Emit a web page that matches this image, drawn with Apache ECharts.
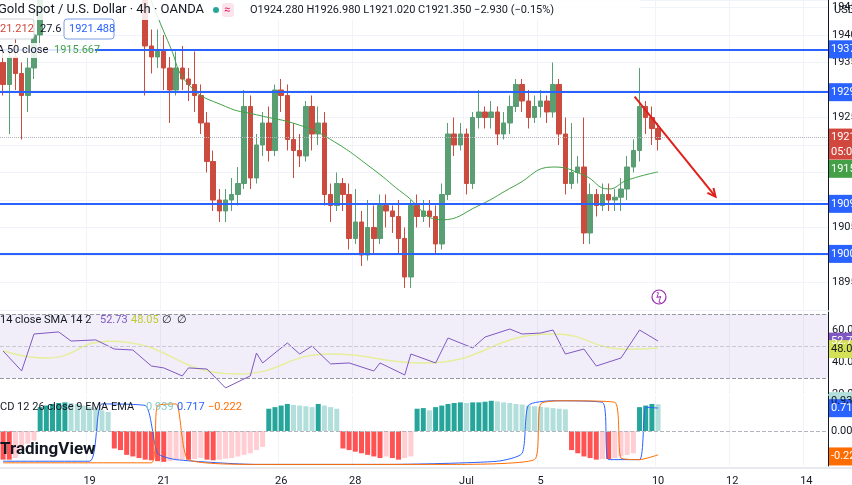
<!DOCTYPE html>
<html>
<head>
<meta charset="utf-8">
<script src="https://cdn.jsdelivr.net/npm/echarts@6/dist/echarts.min.js"></script>
<style>
  html, body { margin: 0; padding: 0; background: #fff; }
  #chart { width: 852px; height: 485px; }
</style>
</head>
<body>
<div id="chart"></div>
<script>
// [open, close, low, high], one per 4h bar
const candles = [
  [1935,1931,1929,1938],[1931,1936,1922,1938],[1936,1933,1930,1940],[1933,1929,1921,1935],
  [1929,1934,1926,1936],[1934,1940,1932,1944],[1940,1947,1938,1952],
  [1952,1956,1950,1959],[1956,1960,1954,1963],[1960,1958,1955,1962],[1958,1962,1956,1966],
  [1962,1959,1957,1964],[1959,1955,1953,1961],[1955,1957,1953,1960],[1957,1954,1951,1959],
  [1954,1958,1952,1961],[1958,1956,1953,1960],[1956,1953,1951,1958],[1953,1955,1951,1957],
  [1955,1952,1950,1957],[1952,1954,1950,1956],[1954,1951,1949,1956],[1951,1953,1949.5,1955],
  [1953,1938,1929,1955],[1938,1936,1933,1941],[1936,1937,1934,1941],[1937,1934,1930,1940],
  [1934,1930,1924,1936],[1930,1934,1929,1937],[1934,1932,1930,1938],[1932,1931,1928,1934],
  [1931,1929,1926,1937],[1929,1924,1922,1931],[1924,1917,1915,1926],[1917,1910,1908,1919],
  [1910,1908,1906,1912],[1908,1910,1906,1912],[1910,1911,1908,1914],[1911,1913,1909,1916],
  [1913,1927,1912,1930],[1927,1914,1912,1929],[1914,1920,1913,1922],[1920,1924,1918,1926],
  [1924,1919,1917,1927],[1919,1930,1918,1931],[1930,1929,1926,1932],[1929,1921,1919,1931],
  [1921,1919,1914,1924],[1919,1918,1916,1922],[1918,1927,1917,1928],[1927,1922,1919,1929],
  [1922,1924,1920,1927],[1924,1911,1909,1926],[1911,1909,1906,1913],[1909,1913,1908,1915],
  [1913,1911,1908,1914],[1911,1903,1901,1913],[1903,1906,1902,1912],[1906,1900,1898,1908],
  [1900,1905,1899,1910],[1905,1903,1900,1909],[1903,1909,1902,1911],[1909,1908,1905,1911],
  [1908,1907,1904,1909],[1907,1903,1900,1910],[1903,1896,1894,1905],[1896,1909,1894,1910],
  [1909,1907,1905,1911],[1907,1908,1906,1910],[1908,1907,1905,1910],[1907,1902,1900,1909],
  [1902,1911,1901,1913],[1911,1922,1910,1924],[1922,1920,1918,1925],[1920,1922,1919,1924],
  [1922,1913,1911,1923],[1913,1925,1912,1926],[1925,1926,1923,1930],[1926,1925,1923,1927],
  [1925,1926,1923,1928],[1926,1922,1920,1927],[1922,1924,1921,1926],[1924,1927,1922,1929],
  [1927,1931,1926,1932],[1931,1928,1926,1932],[1928,1925,1923,1930],[1925,1927,1924,1929],
  [1927,1928,1925,1930],[1928,1926,1924,1929],[1926,1931,1925,1935],[1931,1922,1920,1932],
  [1922,1913,1911,1925],[1913,1915,1912,1924],[1915,1916,1913,1918],[1916,1904,1902,1925],
  [1904,1911,1902,1913],[1911,1909,1907,1912],[1909,1911,1908,1913],[1911,1910,1908,1913],
  [1910,1910.5,1908,1912],[1910.5,1912,1908,1914],[1912,1916,1910,1918],
  [1916,1919,1915,1921],[1919,1927,1917,1934],[1927,1925,1922,1928],[1925,1923,1920,1927],
  [1923,1921,1919,1924]
];
const barCount = 134;
const dateTicks = [[14,'19'],[26,'21'],[45,'26'],[57,'28'],[75,'Jul'],[87,'5'],[106,'10'],[118,'12'],[130,'14']];
const levels = [1937.4, 1929.6, 1909.3, 1900.2];
const lastClose = 1921.35;
// [bar index, value]
const sma50 = [[23,1949],[27,1938],[30,1931],[36,1927],[41,1925.5],[48,1923.6],[53,1921],[60,1915.5],[65,1911],[71,1906.4],[77,1909],[83,1912.7],[89,1916],[94,1914.5],[98,1912],[101,1913.6],[106,1915.1]];
const rsi = [[0,46.9],[3,34.4],[5,57.5],[9,58.8],[11,53.1],[15,53.8],[18,48.1],[21,47.5],[24,37.5],[26,36.3],[29,31.3],[30,36.3],[33,35.6],[36,23.8],[40,31.3],[41,45.6],[42,39.4],[46,51.9],[48,45],[50,50],[53,38.8],[56,39.4],[60,34.4],[61,39.4],[65,31.9],[66,45],[70,39.4],[72,55],[76,48.8],[78,55.6],[82,60.6],[84,57.5],[87,58.1],[89,60],[91,45],[94,48.1],[96,37.5],[100,42.5],[103,60],[106,53.1]];
const rsiSma = [[0,47],[7,42.5],[17,53],[38,32.5],[53,45],[68,39.4],[89,57.5],[101,48],[106,48.8]];
const macdHist = [
  -0.9,-0.9,-0.85,-0.6,-0.4,-0.3,
  0.75,0.8,0.85,0.88,0.9,0.88,0.85,0.8,0.75,0.7,0.65,0.6,
  -0.55,-0.6,-0.75,-0.8,-0.85,-0.9,-0.92,-0.95,-0.97,-0.95,-0.92,-0.9,-0.9,-0.88,-0.85,-0.9,-0.92,-0.9,-0.87,-0.85,-0.8,-0.75,-0.7,-0.6,-0.5,
  0.7,0.75,0.8,0.85,0.82,0.8,0.78,0.75,0.85,0.8,0.75,0.7,
  -0.55,-0.6,-0.65,-0.7,-0.75,-0.8,-0.85,-0.8,-0.85,-0.9,-0.85,-0.8,
  0.7,0.72,0.65,0.75,0.8,0.85,0.88,0.9,0.88,0.9,0.9,0.92,0.95,0.93,0.9,0.88,0.85,0.83,0.8,0.78,0.76,0.74,0.72,0.7,0.68,
  -0.6,-0.7,-0.8,-0.85,-0.9,-0.88,-0.88,-0.85,-0.8,-0.75,-0.7,
  0.75,0.8,0.85,0.84
];
const macdLine = [[0,-0.95],[14,-0.95],[16,0.85],[23,0.8],[25,-0.7],[28,-0.9],[41,-1.05],[62,-1.05],[80,-0.95],[84,-0.7],[85,0.8],[89,0.95],[97,0.9],[98,-0.9],[103,-0.9],[104,0.75],[106,0.72]];
const signalLine = [[0,-1],[24,-1],[25,0.8],[28,0.85],[30,-0.9],[41,-1.05],[72,-1.05],[86,-0.9],[87,0.85],[91,0.95],[99,0.9],[100,-0.85],[103,-0.9],[106,-0.75]];
const arrowFrom = [102.2, 1928.8], arrowTo = [115.3, 1910.6];

const tickMap = {};
dateTicks.forEach(t => { tickMap['b' + t[0]] = t[1]; });
const categories = [];
for (let i = 0; i < barCount; i++) categories.push('b' + i);
const byName = pts => pts.map(p => ['b' + p[0], p[1]]);

const UP = '#5a9e74', DOWN = '#cc4b3f', BLUE = '#2962ff';
const font = 'Roboto, "Noto Sans", sans-serif';

const histData = macdHist.map((v, i) => {
  const prev = i > 0 ? macdHist[i - 1] : v;
  let c;
  if (v >= 0) c = v >= prev ? '#26a69a' : '#b2dfdb';
  else c = v <= prev ? '#ff5252' : '#ffcdd2';
  return { value: v, itemStyle: { color: c } };
});

const isTick = (i, v) => tickMap[v] !== undefined;
const xBase = (gi, showLabel) => ({
  type: 'category', gridIndex: gi, data: categories,
  axisLine: { show: false }, axisTick: { show: false },
  axisLabel: { show: showLabel, interval: isTick, formatter: v => tickMap[v] || '',
    color: '#131722', fontSize: 11, fontFamily: font, margin: 10 },
  splitLine: { show: true, interval: isTick, lineStyle: { color: '#f0f3fa' } }
});
const hiddenPrice = [1890, 1900, 1910, 1915, 1920, 1930];

const chart = echarts.init(document.getElementById('chart'));
chart.setOption({
  animation: false,
  grid: [
    { left: 0, right: 24, top: 0, height: 310, outerBoundsMode: 'none', containLabel: false },
    { left: 0, right: 24, top: 312, height: 82, outerBoundsMode: 'none', containLabel: false },
    { left: 0, right: 24, top: 396, height: 70, outerBoundsMode: 'none', containLabel: false }
  ],
  xAxis: [xBase(0, false), xBase(1, false), xBase(2, true)],
  yAxis: [
    { gridIndex: 0, position: 'right', min: 1890, max: 1946.36, interval: 5,
      axisLine: { show: true, lineStyle: { color: '#131722' } }, axisTick: { show: false },
      axisLabel: { color: '#131722', fontSize: 11, fontFamily: font, margin: 4, showMaxLabel: false,
        formatter: v => hiddenPrice.indexOf(v) >= 0 ? '' : v.toFixed(2) },
      splitLine: { show: true, lineStyle: { color: '#f0f3fa' } } },
    { gridIndex: 1, position: 'right', min: 20, max: 71.25, interval: 20,
      axisLine: { show: true, lineStyle: { color: '#131722' } }, axisTick: { show: false },
      axisLabel: { color: '#131722', fontSize: 11, fontFamily: font, margin: 4, showMaxLabel: false,
        formatter: v => v.toFixed(2) },
      splitLine: { show: false } },
    { gridIndex: 2, position: 'right', min: -1.1, max: 1.1,
      axisLine: { show: true, lineStyle: { color: '#131722' } }, axisTick: { show: false },
      axisLabel: { show: false }, splitLine: { show: false } }
  ],
  series: [
    { type: 'candlestick', xAxisIndex: 0, yAxisIndex: 0, data: candles, clip: true, barWidth: 5,
      itemStyle: { color: UP, color0: DOWN, borderColor: UP, borderColor0: DOWN, borderWidth: 1 },
      markLine: { silent: true, symbol: 'none', label: { show: false },
        data: levels.map(v => ({ yAxis: v, lineStyle: { color: BLUE, width: 2, type: 'solid' } }))
          .concat([{ yAxis: lastClose, lineStyle: { color: '#b2b5be', width: 1, type: 'dotted' } }]) } },
    { type: 'line', xAxisIndex: 0, yAxisIndex: 0, data: byName(sma50), smooth: true, symbol: 'none', clip: true,
      lineStyle: { color: '#43a047', width: 1 } },
    { type: 'line', xAxisIndex: 1, yAxisIndex: 1, data: byName(rsiSma), smooth: true, symbol: 'none',
      lineStyle: { color: '#e6ee9c', width: 1.5 },
      markArea: { silent: true, itemStyle: { color: 'rgba(126,87,194,0.1)' }, data: [[{ yAxis: 30 }, { yAxis: 70 }]] },
      markLine: { silent: true, symbol: 'none', label: { show: false },
        lineStyle: { color: '#9598a1', type: 'dashed', width: 1 },
        data: [{ yAxis: 70 }, { yAxis: 50, lineStyle: { color: '#c9c9d4' } }, { yAxis: 30 }] } },
    { type: 'line', xAxisIndex: 1, yAxisIndex: 1, data: byName(rsi), symbol: 'none',
      lineStyle: { color: '#7e57c2', width: 1 } },
    { type: 'bar', xAxisIndex: 2, yAxisIndex: 2, data: histData, barWidth: 5,
      markLine: { silent: true, symbol: 'none', label: { show: false },
        lineStyle: { color: '#b2b5be', type: 'dashed', width: 1 }, data: [{ yAxis: 0 }] } },
    { type: 'line', xAxisIndex: 2, yAxisIndex: 2, data: byName(macdLine), symbol: 'none', smooth: 0.2,
      lineStyle: { color: '#2962ff', width: 1 } },
    { type: 'line', xAxisIndex: 2, yAxisIndex: 2, data: byName(signalLine), symbol: 'none', smooth: 0.2,
      lineStyle: { color: '#ff6d00', width: 1 } }
  ]
});

const g = [];
// red trend arrow (drawn annotation), placed through the axes
const px = (i, p) => {
  const x0 = chart.convertToPixel({ xAxisIndex: 0 }, 'b0');
  const step = chart.convertToPixel({ xAxisIndex: 0 }, 'b1') - x0;
  return [x0 + i * step, chart.convertToPixel({ yAxisIndex: 0 }, p)];
};
const a0 = px(arrowFrom[0], arrowFrom[1]), a1 = px(arrowTo[0], arrowTo[1]);
const ang = Math.atan2(a1[1] - a0[1], a1[0] - a0[0]);
g.push({ type: 'line', shape: { x1: a0[0], y1: a0[1], x2: a1[0], y2: a1[1] }, style: { stroke: '#e0201b', lineWidth: 2 }, z: 50 });
g.push({ type: 'polyline', shape: { points: [
  [a1[0] - 9 * Math.cos(ang - 0.45), a1[1] - 9 * Math.sin(ang - 0.45)], a1,
  [a1[0] - 9 * Math.cos(ang + 0.45), a1[1] - 9 * Math.sin(ang + 0.45)]] },
  style: { stroke: '#e0201b', lineWidth: 2, fill: null }, z: 50 });

// right-side value tags
const tags = [
  [0, 1937.40, '1937.40', BLUE, '#fff'], [0, 1929.60, '1929.60', BLUE, '#fff'],
  [0, lastClose, '1921.35', '#d1473d', '#fff'], [0, 1915.67, '1915.67', '#43a047', '#fff'],
  [0, 1909.30, '1909.30', BLUE, '#fff'], [0, 1900.20, '1900.20', BLUE, '#fff'],
  [1, 52.73, '52.73', '#7e57c2', '#fff'], [1, 48.05, '48.05', '#d4e157', '#131722'],
  [2, 0.939, '0.939', '#b2dfdb', '#131722'], [2, 0.717, '0.717', '#2962ff', '#fff'],
  [2, 0.0, '0.000', '#fff', '#131722'], [2, -0.8, '-0.222', '#ff6d00', '#fff']
];
tags.forEach(t => {
  const y = chart.convertToPixel({ yAxisIndex: t[0] }, t[1]);
  g.push({ type: 'rect', shape: { x: 829, y: y - 9, width: 30, height: 18 }, style: { fill: t[3] }, z: 100 });
  g.push({ type: 'text', x: 831, y: y, style: { text: t[2], fill: t[4], font: '11px ' + font, textVerticalAlign: 'middle' }, z: 101 });
});
const cy = chart.convertToPixel({ yAxisIndex: 0 }, lastClose);
g.push({ type: 'rect', shape: { x: 829, y: cy + 8, width: 30, height: 14 }, style: { fill: '#d1473d' }, z: 100 });
g.push({ type: 'text', x: 831, y: cy + 15, style: { text: '05:06', fill: '#fff', font: '11px ' + font, textVerticalAlign: 'middle' }, z: 101 });
g.push(
  { type: 'rect', shape: { x: 0, y: 0, width: 640, height: 20 }, style: { fill: 'rgba(255,255,255,0.85)' }, z: 5 },
  { type: 'text', x: -2, y: 10, style: { text: 'Gold Spot / U.S. Dollar · 4h · OANDA', fill: '#131722', font: '13px ' + font, textVerticalAlign: 'middle' }, z: 6 },
  { type: 'circle', shape: { cx: 216, cy: 10, r: 3 }, style: { fill: '#26a69a' }, z: 6 },
  { type: 'rect', shape: { x: 222, y: 3, width: 12, height: 14, r: 3 }, style: { fill: '#fce4ec' }, z: 6 },
  { type: 'text', x: 224, y: 10, style: { text: '≈', fill: '#e91e63', font: '11px ' + font, textVerticalAlign: 'middle' }, z: 7 },
  { type: 'text', x: 250, y: 10, style: { text: 'O1924.280 H1926.980 L1921.020 C1921.350 −2.930 (−0.15%)', fill: '#131722', font: '11px ' + font, textVerticalAlign: 'middle' }, z: 6 },
  { type: 'rect', shape: { x: -4, y: 19, width: 38, height: 20, r: 3 }, style: { fill: '#fff', stroke: '#d1d4dc' }, z: 6 },
  { type: 'text', x: 0, y: 29, style: { text: '21.212', fill: '#d1473d', font: '11px ' + font, textVerticalAlign: 'middle' }, z: 7 },
  { type: 'text', x: 40, y: 29, style: { text: '27.6', fill: '#131722', font: '11px ' + font, textVerticalAlign: 'middle' }, z: 7 },
  { type: 'rect', shape: { x: 64, y: 19, width: 50, height: 20, r: 3 }, style: { fill: '#fff', stroke: '#7aa0e8' }, z: 6 },
  { type: 'text', x: 69, y: 29, style: { text: '1921.488', fill: '#2962ff', font: '11px ' + font, textVerticalAlign: 'middle' }, z: 7 },
  { type: 'rect', shape: { x: 0, y: 43, width: 95, height: 15 }, style: { fill: 'rgba(255,255,255,0.85)' }, z: 6 },
  { type: 'text', x: -3, y: 50, style: { text: 'A 50 close', fill: '#131722', font: '11px ' + font, textVerticalAlign: 'middle' }, z: 7 },
  { type: 'text', x: 54, y: 50, style: { text: '1915.667', fill: '#43a047', font: '11px ' + font, textVerticalAlign: 'middle' }, z: 7 },
  { type: 'text', x: 0, y: 320, style: { text: '14 close SMA 14 2', fill: '#131722', font: '11px ' + font, textVerticalAlign: 'middle' }, z: 7 },
  { type: 'text', x: 100, y: 320, style: { text: '52.73', fill: '#7e57c2', font: '11px ' + font, textVerticalAlign: 'middle' }, z: 7 },
  { type: 'text', x: 131, y: 320, style: { text: '48.05', fill: '#c0ca33', font: '11px ' + font, textVerticalAlign: 'middle' }, z: 7 },
  { type: 'text', x: 162, y: 320, style: { text: '∅  ∅', fill: '#131722', font: '11px ' + font, textVerticalAlign: 'middle' }, z: 7 },
  { type: 'text', x: 0, y: 407, style: { text: 'CD 12 26 close 9 EMA EMA', fill: '#131722', font: '11px ' + font, textVerticalAlign: 'middle' }, z: 7 },
  { type: 'text', x: 146, y: 407, style: { text: '0.939', fill: '#80cbc4', font: '11px ' + font, textVerticalAlign: 'middle' }, z: 7 },
  { type: 'text', x: 177, y: 407, style: { text: '0.717', fill: '#2962ff', font: '11px ' + font, textVerticalAlign: 'middle' }, z: 7 },
  { type: 'text', x: 208, y: 407, style: { text: '−0.222', fill: '#ff6d00', font: '11px ' + font, textVerticalAlign: 'middle' }, z: 7 },
  { type: 'text', x: 0, y: 450, style: { text: 'TradingView', fill: '#131722', font: 'bold 17px ' + font, textVerticalAlign: 'middle' }, z: 7 },
  { type: 'text', x: 834, y: 10, style: { text: 'USD', fill: '#131722', font: '11px ' + font, textVerticalAlign: 'middle' }, z: 7 },
  { type: 'circle', shape: { cx: 659, cy: 297, r: 7 }, style: { fill: '#fff', stroke: '#9c27b0', lineWidth: 1.2 }, z: 7 },
  { type: 'text', x: 656, y: 297, style: { text: 'ϟ', fill: '#9c27b0', font: '10px ' + font, textVerticalAlign: 'middle' }, z: 8 },
  { type: 'line', shape: { x1: 0, y1: 468, x2: 852, y2: 468 }, style: { stroke: '#d1d4dc' }, z: 7 }
);
chart.setOption({ graphic: g });
</script>
</body>
</html>
